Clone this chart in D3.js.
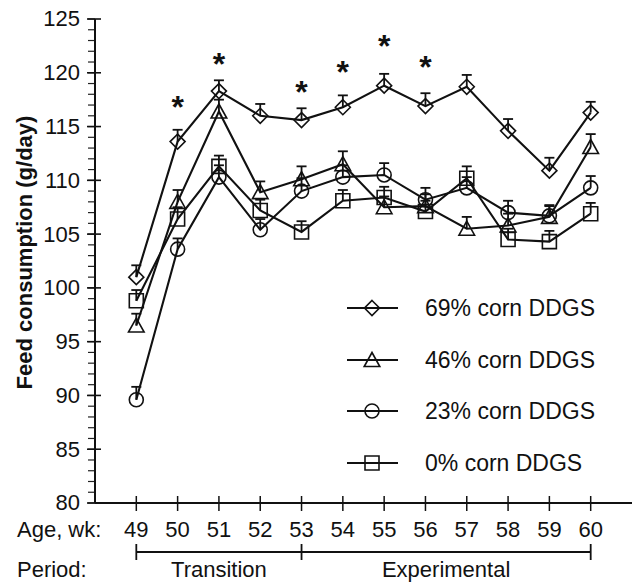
<!DOCTYPE html>
<html>
<head>
<meta charset="utf-8">
<script src="https://cdn.jsdelivr.net/npm/d3@7"></script>
<style>
  html, body { margin: 0; padding: 0; background: #fff; }
  svg { display: block; }
  text { font-family: "Liberation Sans", Arial, Helvetica, sans-serif; fill: #111; }
</style>
</head>
<body>
<svg id="chart" width="637" height="583"></svg>
<script>
// Age of hens (weeks) at each measurement
const weeks = [49, 50, 51, 52, 53, 54, 55, 56, 57, 58, 59, 60];

// Mean feed consumption (g/day) per dietary treatment
const corn69 = [101.0, 113.6, 118.3, 116.0, 115.6, 116.8, 118.8, 116.9, 118.7, 114.6, 110.9, 116.3];
const corn46 = [96.5, 108.0, 116.4, 108.9, 110.1, 111.5, 107.5, 107.6, 105.5, 105.8, 106.6, 113.1];
const corn23 = [89.6, 103.6, 110.3, 105.4, 109.0, 110.3, 110.5, 108.2, 109.3, 107.0, 106.7, 109.3];
const corn0  = [98.8, 106.4, 111.3, 107.2, 105.2, 108.1, 108.4, 107.1, 110.2, 104.5, 104.3, 106.9];

// Standard errors (upper bars only)
const se69 = [1.1, 1.1, 1.0, 1.1, 1.1, 1.1, 1.1, 1.2, 1.1, 1.1, 1.2, 1.0];
const se46 = [1.1, 1.1, 1.1, 1.0, 1.2, 1.2, 1.0, 1.1, 1.1, 1.1, 1.0, 1.2];
const se23 = [1.2, 1.0, 1.1, 1.0, 1.2, 1.1, 1.1, 1.1, 1.0, 1.1, 1.0, 1.1];
const se0  = [1.0, 1.1, 1.0, 1.0, 1.0, 1.0, 1.0, 1.0, 1.1, 1.0, 1.0, 1.0];

const seriesLabels = ["69% corn DDGS", "46% corn DDGS", "23% corn DDGS", "0% corn DDGS"];
const seriesShapes = ["diamond", "triangle", "circle", "square"];

// Weeks with significant treatment effect, and the height of each marker (g/day)
const sigWeeks  = [50, 51, 53, 54, 55, 56];
const sigHeight = [117.5, 121.5, 118.9, 120.7, 123.1, 121.2];

// Axis ticks
const yMajorTicks = [80, 85, 90, 95, 100, 105, 110, 115, 120, 125];
const yMinorTicks = d3.range(80, 126, 1);

// Experimental periods
const periodNames = ["Transition", "Experimental"];
const periodStart = [49, 53];
const periodEnd   = [53, 60];

const series = seriesLabels.map((label, i) => ({
  label,
  shape: seriesShapes[i],
  values: [corn69, corn46, corn23, corn0][i],
  se: [se69, se46, se23, se0][i]
}));

const svg = d3.select("#chart");

const x = d3.scaleLinear().domain([48, 61]).range([95, 632]);
const y = d3.scaleLinear().domain([80, 125]).range([503, 19]);

const FONT = 22;

// Marker shapes
function shapePath(shape) {
  const p = d3.path();
  if (shape === "diamond") {
    p.moveTo(0, -7.5); p.lineTo(7.5, 0); p.lineTo(0, 7.5); p.lineTo(-7.5, 0); p.closePath();
  } else if (shape === "triangle") {
    p.moveTo(0, -7.5); p.lineTo(7.8, 6.5); p.lineTo(-7.8, 6.5); p.closePath();
  } else if (shape === "circle") {
    p.arc(0, 0, 7, 0, 2 * Math.PI);
  } else {
    p.rect(-7, -7, 14, 14);
  }
  return p.toString();
}

// ---- Y axis ----
const yAxisG = svg.append("g").attr("transform", `translate(${x(48)},0)`);
yAxisG.selectAll("line.minor").data(yMinorTicks).join("line")
  .attr("class", "minor")
  .attr("x1", -7).attr("x2", 0)
  .attr("y1", d => y(d)).attr("y2", d => y(d))
  .attr("stroke", "#222").attr("stroke-width", 1.2);
yAxisG.selectAll("line.major").data(yMajorTicks).join("line")
  .attr("class", "major")
  .attr("x1", -8).attr("x2", 6)
  .attr("y1", d => y(d)).attr("y2", d => y(d))
  .attr("stroke", "#111").attr("stroke-width", 1.6);
yAxisG.selectAll("text").data(yMajorTicks).join("text")
  .attr("x", -15).attr("y", d => y(d)).attr("dy", "0.34em")
  .attr("text-anchor", "end").attr("font-size", FONT)
  .text(d => d);
yAxisG.append("line")
  .attr("x1", 0).attr("x2", 0).attr("y1", y(125)).attr("y2", y(80))
  .attr("stroke", "#111").attr("stroke-width", 2);

svg.append("text")
  .attr("transform", `translate(32,${(113 + 392) / 2}) rotate(-90)`)
  .attr("text-anchor", "middle").attr("font-size", FONT).attr("font-weight", "bold")
  .text("Feed consumption (g/day)");

// ---- X axis ----
const xAxisG = svg.append("g").attr("transform", `translate(0,${y(80)})`);
xAxisG.append("line")
  .attr("x1", x(48)).attr("x2", x(61)).attr("y1", 0).attr("y2", 0)
  .attr("stroke", "#111").attr("stroke-width", 2.2);
xAxisG.selectAll("line.tick").data(weeks).join("line")
  .attr("class", "tick")
  .attr("x1", d => x(d)).attr("x2", d => x(d))
  .attr("y1", -7).attr("y2", 8)
  .attr("stroke", "#111").attr("stroke-width", 1.5);
xAxisG.selectAll("text.tl").data(weeks).join("text")
  .attr("class", "tl")
  .attr("x", d => x(d)).attr("y", 26).attr("dy", "0.36em")
  .attr("text-anchor", "middle").attr("font-size", FONT)
  .text(d => d);
svg.append("text")
  .attr("x", 17).attr("y", y(80) + 26).attr("dy", "0.36em")
  .attr("font-size", FONT).text("Age, wk:");

// ---- Period bracket ----
const bracketY = 552;
const periodG = svg.append("g");
periodG.append("line")
  .attr("x1", x(periodStart[0])).attr("x2", x(periodEnd[periodEnd.length - 1]))
  .attr("y1", bracketY).attr("y2", bracketY)
  .attr("stroke", "#111").attr("stroke-width", 1.8);
const bracketEnds = Array.from(new Set(periodStart.concat(periodEnd)));
periodG.selectAll("line.end").data(bracketEnds).join("line")
  .attr("class", "end")
  .attr("x1", d => x(d)).attr("x2", d => x(d))
  .attr("y1", bracketY - 8).attr("y2", bracketY + 8)
  .attr("stroke", "#111").attr("stroke-width", 1.8);
periodG.selectAll("text.pn").data(periodNames).join("text")
  .attr("class", "pn")
  .attr("x", (d, i) => x((periodStart[i] + periodEnd[i]) / 2))
  .attr("y", 569).attr("dy", "0.36em")
  .attr("text-anchor", "middle").attr("font-size", FONT)
  .text(d => d);
svg.append("text")
  .attr("x", 17).attr("y", 569).attr("dy", "0.36em")
  .attr("font-size", FONT).text("Period:");

// ---- Series ----
const line = d3.line().x((d, i) => x(weeks[i])).y(d => y(d));
const plot = svg.append("g");

series.forEach(s => {
  plot.append("path")
    .attr("d", line(s.values))
    .attr("fill", "none").attr("stroke", "#111").attr("stroke-width", 2.1)
    .attr("stroke-linejoin", "miter");
});

series.forEach(s => {
  const g = plot.append("g");
  // upper error bars
  g.selectAll("line.eb").data(s.values).join("line")
    .attr("class", "eb")
    .attr("x1", (d, i) => x(weeks[i])).attr("x2", (d, i) => x(weeks[i]))
    .attr("y1", d => y(d)).attr("y2", (d, i) => y(d + s.se[i]))
    .attr("stroke", "#111").attr("stroke-width", 1.8);
  g.selectAll("line.cap").data(s.values).join("line")
    .attr("class", "cap")
    .attr("x1", (d, i) => x(weeks[i]) - 5).attr("x2", (d, i) => x(weeks[i]) + 5)
    .attr("y1", (d, i) => y(d + s.se[i])).attr("y2", (d, i) => y(d + s.se[i]))
    .attr("stroke", "#111").attr("stroke-width", 1.8);
  // markers
  g.selectAll("path.mk").data(s.values).join("path")
    .attr("class", "mk")
    .attr("transform", (d, i) => `translate(${x(weeks[i])},${y(d)})`)
    .attr("d", shapePath(s.shape))
    .attr("fill", "none").attr("stroke", "#111").attr("stroke-width", 1.6);
});

// ---- Significance markers ----
svg.selectAll("text.sig").data(sigWeeks).join("text")
  .attr("class", "sig")
  .attr("x", d => x(d))
  .attr("y", (d, i) => y(sigHeight[i]) + 18)
  .attr("text-anchor", "middle").attr("font-size", 32).attr("font-weight", "bold")
  .text("*");

// ---- Legend ----
const legendRowY = [308, 360, 411, 463];
const legend = svg.append("g");
series.forEach((s, i) => {
  const row = legend.append("g").attr("transform", `translate(0,${legendRowY[i]})`);
  row.append("line").attr("x1", 347).attr("x2", 398).attr("y1", 0).attr("y2", 0)
    .attr("stroke", "#111").attr("stroke-width", 2);
  row.append("path").attr("transform", "translate(372,0)")
    .attr("d", shapePath(s.shape))
    .attr("fill", "none").attr("stroke", "#111").attr("stroke-width", 1.6);
  row.append("text").attr("x", 425).attr("y", 0).attr("dy", "0.36em")
    .attr("font-size", 23).text(s.label);
});
</script>
</body>
</html>
